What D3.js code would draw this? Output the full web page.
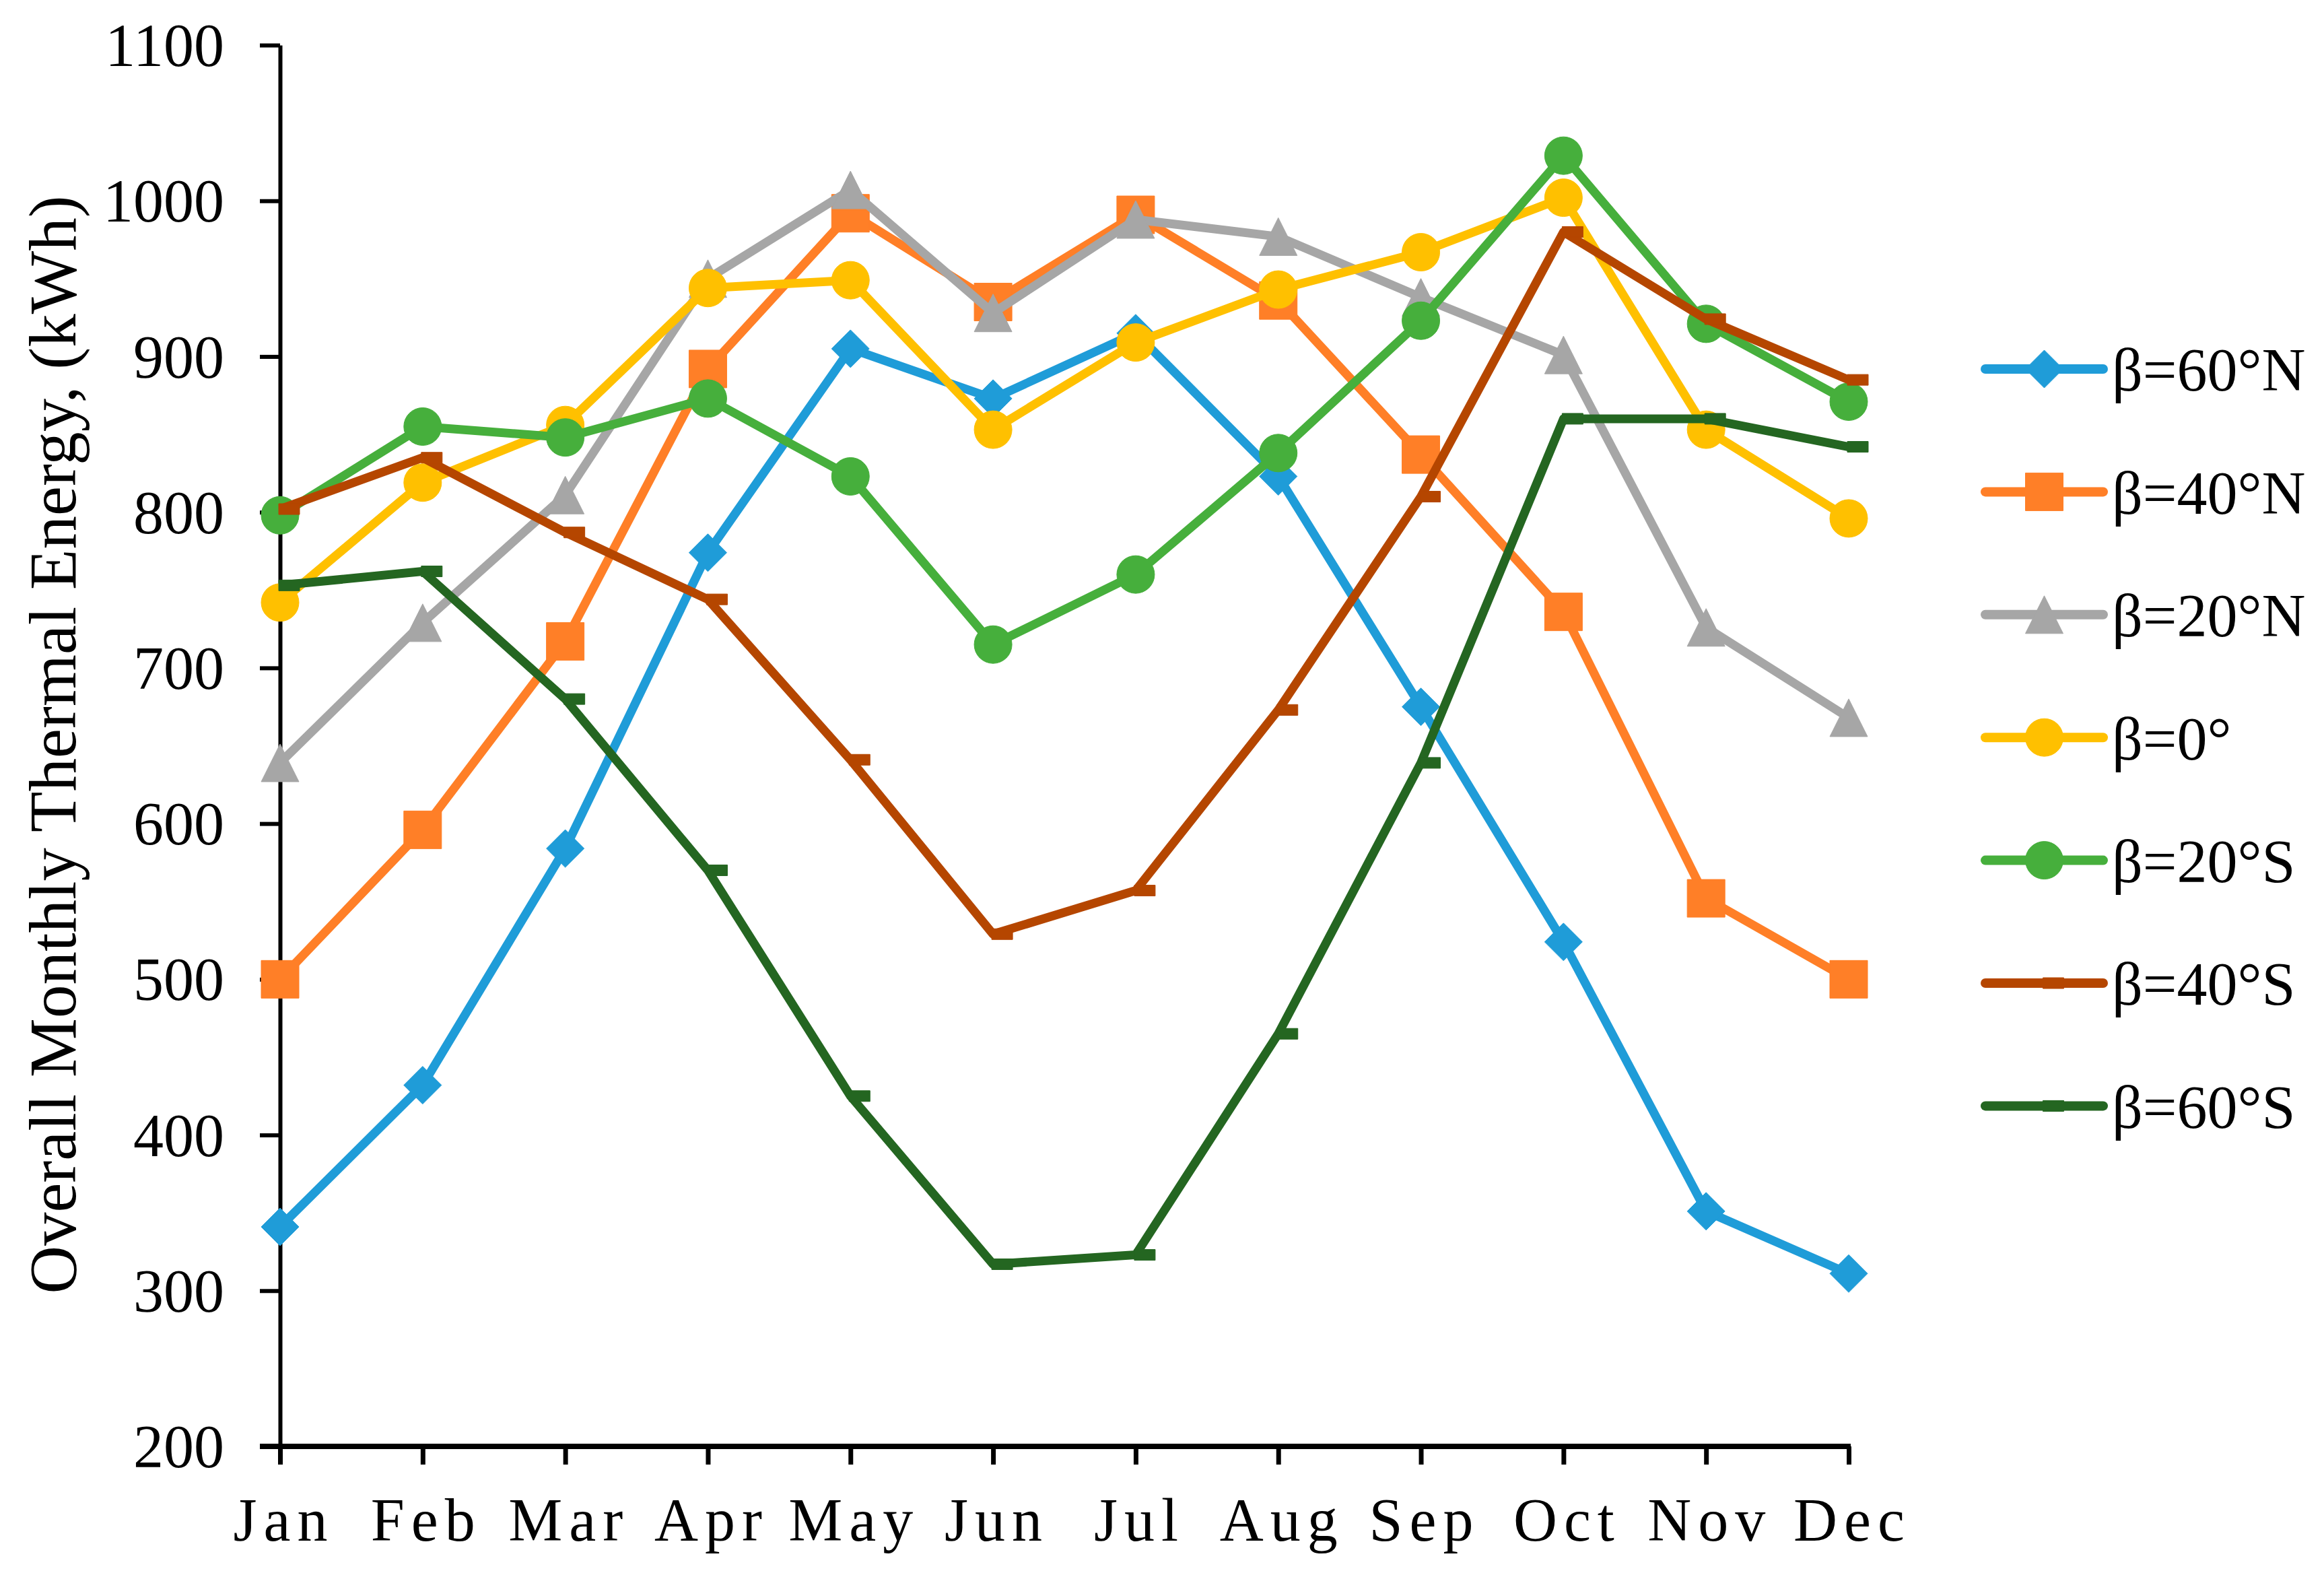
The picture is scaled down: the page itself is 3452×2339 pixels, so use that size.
<!DOCTYPE html>
<html>
<head>
<meta charset="utf-8">
<script src="https://cdn.jsdelivr.net/npm/d3@7"></script>
<style>
  html, body { margin: 0; padding: 0; background: #ffffff; }
  svg { display: block; }
  text { font-family: "Liberation Serif", "Times New Roman", serif; fill: #000; }
</style>
</head>
<body>
<svg id="chart" width="3452" height="2339"></svg>
<script>
// ---------------- data ----------------
const months = ["Jan", "Feb", "Mar", "Apr", "May", "Jun", "Jul", "Aug", "Sep", "Oct", "Nov", "Dec"];
const yTicks = [200, 300, 400, 500, 600, 700, 800, 900, 1000, 1100];
const seriesNames = ["β=60°N", "β=40°N", "β=20°N", "β=0°", "β=20°S", "β=40°S", "β=60°S"];
const beta60N = [341, 432, 584, 774, 905, 873, 915, 823, 675, 524, 351, 311];
const beta40N = [500, 596, 717, 892, 992, 935, 991, 936, 837, 736, 552, 500];
const beta20N = [639, 729, 811, 950, 1007, 928, 988, 977, 938, 901, 726, 668];
const beta0 = [742, 819, 856, 944, 949, 853, 909, 943, 967, 1002, 853, 796];
const beta20S = [798, 855, 848, 873, 823, 715, 760, 838, 923, 1029, 921, 871];
const beta40S = [802, 835, 787, 744, 641, 529, 557, 673, 810, 980, 924, 885];
const beta60S = [753, 762, 680, 570, 425, 317, 323, 465, 639, 860, 860, 842];
const yTitle = "Overall Monthly Thermal Energy, (kWh)";

(function () {
// ---------------- styles ----------------
const colors = ["#1F9CD8", "#FF7F27", "#A6A6A6", "#FFC000", "#46AF3C", "#B54600", "#246621"];
const markers = ["diamond", "square", "triangle", "circle", "circle", "dash", "dash"];
const allSeries = [beta60N, beta40N, beta20N, beta0, beta20S, beta40S, beta60S];

const svg = d3.select("#chart");
const pLeft = 416, pRight = 2746, pTop = 67, pBottom = 2148;
const fontSize = 90;

const x = d3.scalePoint().domain(months).range([pLeft, pRight]);
const y = d3.scaleLinear().domain([200, 1100]).range([pBottom, pTop]);

function markerPath(type) {
  const h = 28;
  switch (type) {
    case "diamond": return `M0,${-h}L${h},0L0,${h}L${-h},0Z`;
    case "square": return `M${-h},${-h}H${h}V${h}H${-h}Z`;
    case "triangle": return `M0,${-h}L${h},${h}H${-h}Z`;
    case "circle": return d3.symbol().type(d3.symbolCircle).size(Math.PI * h * h)();
    case "dash": return `M-2,-8H29V8H-2Z`;
  }
}

// ---------------- axes ----------------
const yAxis = d3.axisLeft(y).tickValues(yTicks).tickFormat(d3.format("d"))
  .tickSize(30).tickSizeOuter(0).tickPadding(53);
const gy = svg.append("g").attr("transform", `translate(${pLeft},0)`).call(yAxis);
gy.select(".domain").attr("stroke", "#000").attr("stroke-width", 6);
gy.selectAll(".tick line").attr("stroke", "#000").attr("stroke-width", 6);
gy.selectAll(".tick text")
  .attr("font-size", fontSize)
  .attr("font-family", "Liberation Serif, Times New Roman, serif")
  .attr("dy", "0.34em");

const xAxis = d3.axisBottom(x).tickSize(27).tickSizeOuter(0);
const gx = svg.append("g").attr("transform", `translate(0,${pBottom})`).call(xAxis);
gx.select(".domain").attr("stroke", "#000").attr("stroke-width", 8)
  .attr("d", `M${pLeft - 30},0H${pRight + 3}`);
gx.selectAll(".tick line").attr("stroke", "#000").attr("stroke-width", 7);
gx.selectAll(".tick text")
  .attr("font-size", fontSize)
  .attr("font-family", "Liberation Serif, Times New Roman, serif")
  .attr("letter-spacing", "10px")
  .attr("y", 140)
  .attr("dy", 0)
  .attr("dx", 5);

// y title
svg.append("text")
  .attr("transform", `translate(112,1106) rotate(-90)`)
  .attr("text-anchor", "middle")
  .attr("font-size", 99)
  .text(yTitle);

// ---------------- series ----------------
const line = d3.line().x((d, i) => x(months[i])).y(d => y(d));

allSeries.forEach((vals, si) => {
  const g = svg.append("g");
  g.append("path")
    .attr("d", line(vals))
    .attr("fill", "none")
    .attr("stroke", colors[si])
    .attr("stroke-width", 13)
    .attr("stroke-linejoin", "round");
  g.selectAll("path.mk")
    .data(vals)
    .join("path")
    .attr("class", "mk")
    .attr("transform", (d, i) => `translate(${x(months[i])},${y(d)})`)
    .attr("d", markerPath(markers[si]))
    .attr("fill", colors[si])
    .attr("stroke", colors[si])
    .attr("stroke-width", 1)
    .attr("stroke-linejoin", "round");
});

// ---------------- legend ----------------
const legX1 = 2949, legX2 = 3124, legY0 = 548, legStep = 182.4;
const leg = svg.append("g");
seriesNames.forEach((name, i) => {
  const ly = legY0 + i * legStep;
  const cx = (legX1 + legX2) / 2;
  leg.append("line")
    .attr("x1", legX1).attr("x2", legX2).attr("y1", ly).attr("y2", ly)
    .attr("stroke", colors[i]).attr("stroke-width", 14).attr("stroke-linecap", "round");
  leg.append("path")
    .attr("transform", `translate(${cx},${ly})`)
    .attr("d", markerPath(markers[i]))
    .attr("fill", colors[i]).attr("stroke", colors[i]).attr("stroke-width", 1);
  leg.append("text")
    .attr("x", 3137).attr("y", ly)
    .attr("dy", "0.36em")
    .attr("font-size", fontSize)
    .text(name);
});
})();
</script>
</body>
</html>
